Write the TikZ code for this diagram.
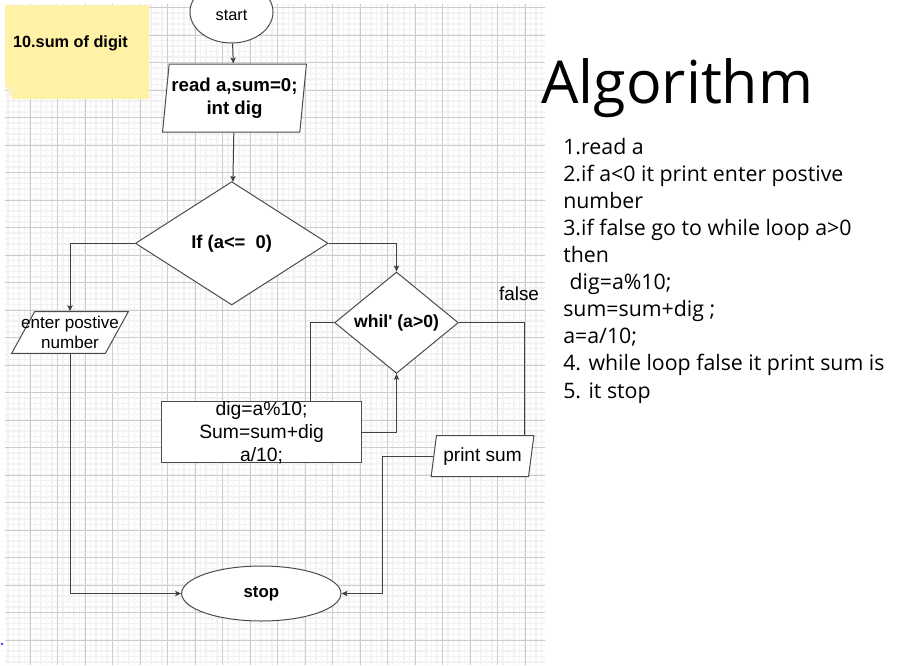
\documentclass[tikz,border=0pt]{standalone}
\usepackage{fontspec}
\setmainfont{Liberation Sans}
\newfontfamily\algfont{Open Sans}
\usetikzlibrary{shapes.geometric,arrows.meta,calc}
\definecolor{notefill}{RGB}{255,242,166}
\definecolor{notefold}{RGB}{250,240,196}

\begin{document}
\begin{tikzpicture}[x=0.75pt,y=0.75pt,yscale=-1,xscale=1,
    gridminor/.style={draw=black!5,line width=1.1pt},
    gridmajor/.style={draw=black!20,line width=0.75pt},
    flow/.style={draw=black!70,fill=white,inner sep=0pt,line width=0.75pt},
    term/.style={flow,ellipse},
    cond/.style={flow,diamond},
    proc/.style={flow,rectangle},
    io/.style={flow,trapezium,trapezium stretches=true},
    conn/.style={draw=black!75,line width=0.75pt},
    arr/.style={conn,-{Stealth[length=4.5pt,width=4pt,inset=1pt]}}]
        \useasboundingbox (0,0) rectangle (911,665);
        \fill[white] (0,0) rectangle (911,665);
        % grid of the drawing page
        \foreach \gx in {8,13.5,...,545} \draw[gridminor] (\gx,4) -- (\gx,665);
        \foreach \gy in {7.5,13,...,665} \draw[gridminor] (5,\gy) -- (545,\gy);
        \foreach \gx in {30,57.5,...,545} \draw[gridmajor] (\gx,4) -- (\gx,665);
        \foreach \gy in {7.5,35,...,665} \draw[gridmajor] (5,\gy) -- (545,\gy);
        \fill[blue] (2,644) circle (1.2);
        % sticky note
        \fill[notefill] (5,5) -- (149,5) -- (149,99) -- (13,99) -- (5,86) -- cycle;
        \fill[notefold] (5,86) -- (13,88) -- (13,99) -- cycle;
        \node[font=\bfseries\fontsize{12.2}{14}\selectfont] (title) at (70.5,43) {10.sum of digit};

        \node[term,minimum width=62.25pt,minimum height=46.5pt,text height=13.4pt,font=\fontsize{12.2}{14}\selectfont] (st) at (231.5,12) {start};
        \node[io,trapezium left angle=81,trapezium right angle=99,minimum width=108pt,minimum height=51pt,align=center,font=\bfseries\fontsize{14}{17}\selectfont] (rd) at (234.5,98) {read a,sum=0;\\int dig};
        \node[cond,aspect=1.56,minimum width=144.5pt,minimum height=92.5pt,font=\bfseries\fontsize{13.8}{16}\selectfont] (if) at (231.7,243.3) {If (a<=\ \ 0)};
        \node[io,trapezium left angle=72.6,trapezium right angle=107.4,minimum width=87.5pt,minimum height=31.2pt,
            label={[align=center,font=\fontsize{12.8}{15}\selectfont]center:enter postive\\number}] (en) at (70,332.5) {\phantom{A}};
        \node[cond,aspect=1.22,minimum width=92.8pt,minimum height=76pt,font=\bfseries\fontsize{13.2}{15}\selectfont] (wh) at (396.5,322.7) {whil\textquotesingle\ (a>0)};
        \node[proc,minimum width=149.9pt,minimum height=46pt,
            label={[align=center,font=\fontsize{14.5}{17.25}\selectfont]center:dig=a\%10;\\Sum=sum+dig\\a/10;}] (bx) at (261.6,432.3) {};
        \node[io,trapezium left angle=75.6,trapezium right angle=104.4,minimum width=77.25pt,minimum height=30.75pt,font=\fontsize{14.3}{17}\selectfont] (pr) at (482.5,456.2) {print sum};
        \node[term,minimum width=119.5pt,minimum height=41.25pt,font=\bfseries\fontsize{12.6}{15}\selectfont] (sp) at (261.3,593.5) {stop};
        \node[font=\fontsize{14.2}{17}\selectfont] (fl) at (519,294) {false};

        \draw[arr] (st) -- (rd);
        \draw[arr] (rd) -- (if);
        \draw[arr] (if.west) -| (en);
        \draw[arr] (if.east) -| (wh);
        \draw[arr] (en) |- (sp);
        \draw[conn] ($(bx.north)+(48.4,0)$) |- (wh.west);
        \draw[arr] (bx.east) -| (wh);
        \draw[conn] (wh.east) -| ($(pr.top side)+(39.25,0)$);
        \draw[arr] (pr.left side) -- ++(-50.5,0) |- (sp.east);

        % algorithm text
        \node[anchor=base west,inner sep=0pt,font=\algfont\fontsize{44.4}{50}\selectfont] (alg) at (541,103.3) {Algorithm};
        \node[anchor=base west,inner sep=0pt,align=left,font=\algfont\fontsize{16}{20.3}\selectfont] (steps) at (563,398) {1.read a\\2.if a<0 it print enter postive\\number\\3.if false go to while loop a>0\\then\\\hspace{0.3em}dig=a\%10;\\sum=sum+dig ;\\a=a/10;\\4. while loop false it print sum is\\5. it stop};
    \end{tikzpicture}
\end{document}
